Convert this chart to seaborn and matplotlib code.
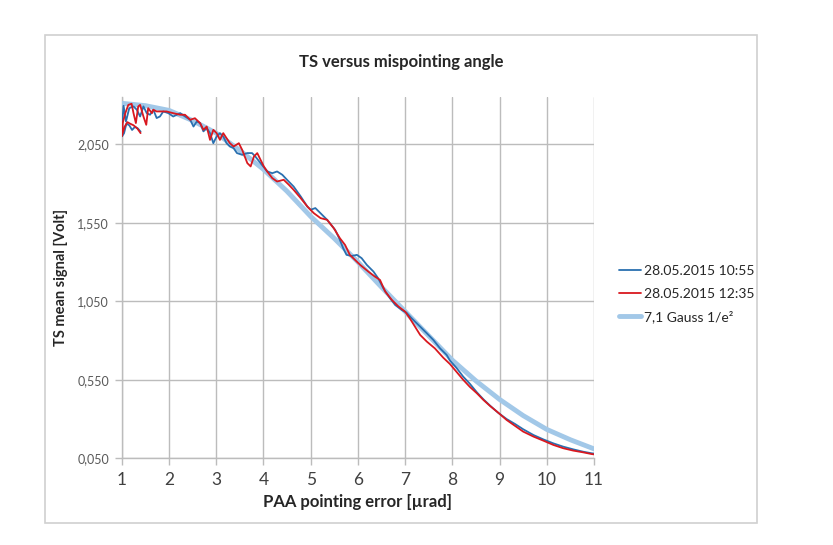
import matplotlib
matplotlib.use("Agg")
import matplotlib.pyplot as plt
import seaborn as sns
import pandas as pd
from matplotlib.ticker import FuncFormatter
from matplotlib.patches import Rectangle

# Measurement 28.05.2015 10:55 (starts with a short sweep back from 1.4 to 1.0)
blue_x = [1.40, 1.34, 1.28, 1.22, 1.16, 1.10, 1.05, 1.01,
          1.02, 1.04, 1.09, 1.16, 1.25, 1.32, 1.39, 1.46, 1.53, 1.60, 1.67, 1.74,
          1.81, 1.88, 1.99, 2.09, 2.24, 2.34, 2.45, 2.52, 2.59, 2.66, 2.73, 2.80,
          2.87, 2.94, 3.01, 3.08, 3.15, 3.22, 3.29, 3.37, 3.44, 3.55, 3.66, 3.76,
          3.83, 3.94, 4.08, 4.19, 4.29, 4.40, 4.50, 4.64, 4.79, 4.93, 5.00, 5.10,
          5.21, 5.35, 5.52, 5.62, 5.69, 5.76, 5.87, 5.98, 6.08, 6.19, 6.33, 6.43,
          6.54, 6.68, 6.79, 6.93, 7.03, 7.14, 7.32, 7.46, 7.60, 7.74, 7.88, 7.95,
          8.09, 8.23, 8.37, 8.52, 8.66, 8.80, 8.97, 9.15, 9.33, 9.50, 9.72, 9.93,
          10.14, 10.35, 10.56, 10.77, 10.95, 11.0]
blue_y = [2.13, 2.15, 2.16, 2.14, 2.17, 2.18, 2.12, 2.10,
          2.22, 2.294, 2.194, 2.279, 2.29, 2.269, 2.226, 2.29, 2.247, 2.237, 2.269, 2.216,
          2.226, 2.258, 2.247, 2.226, 2.247, 2.226, 2.205, 2.162, 2.194, 2.184, 2.131, 2.152,
          2.12, 2.056, 2.099, 2.12, 2.099, 2.056, 2.035, 2.024, 1.993, 1.982, 1.993, 1.993,
          1.971, 1.929, 1.876, 1.865, 1.876, 1.855, 1.823, 1.78, 1.717, 1.653, 1.632, 1.643,
          1.61, 1.568, 1.504, 1.44, 1.387, 1.345, 1.338, 1.345, 1.324, 1.281, 1.239, 1.196,
          1.132, 1.069, 1.026, 0.994, 0.977, 0.941, 0.888, 0.846, 0.803, 0.75, 0.708, 0.672,
          0.625, 0.57, 0.525, 0.47, 0.425, 0.385, 0.34, 0.30, 0.268, 0.235, 0.198, 0.170,
          0.145, 0.124, 0.107, 0.092, 0.082, 0.080]

# Measurement 28.05.2015 12:35
red_x = [1.40, 1.33, 1.25, 1.18, 1.12, 1.06, 1.02, 1.00,
         1.02, 1.08, 1.14, 1.21, 1.25, 1.30, 1.35, 1.39, 1.46, 1.52, 1.56, 1.64,
         1.67, 1.74, 1.81, 1.95, 2.09, 2.24, 2.34, 2.45, 2.55, 2.66, 2.73, 2.80,
         2.87, 2.94, 3.01, 3.08, 3.15, 3.22, 3.29, 3.37, 3.48, 3.55, 3.66, 3.73,
         3.80, 3.87, 3.94, 4.01, 4.08, 4.19, 4.29, 4.43, 4.54, 4.64, 4.79, 4.93,
         5.07, 5.21, 5.35, 5.49, 5.62, 5.73, 5.83, 5.94, 6.05, 6.22, 6.36, 6.47,
         6.58, 6.72, 6.86, 7.00, 7.10, 7.21, 7.32, 7.46, 7.63, 7.81, 7.95, 8.09,
         8.23, 8.37, 8.52, 8.66, 8.80, 8.97, 9.15, 9.33, 9.50, 9.72, 9.93, 10.14,
         10.35, 10.56, 10.77, 10.95, 11.0]
red_y = [2.12, 2.15, 2.17, 2.18, 2.19, 2.16, 2.12, 2.10,
         2.184, 2.25, 2.30, 2.307, 2.247, 2.184, 2.29, 2.30, 2.226, 2.173, 2.279, 2.247,
         2.269, 2.258, 2.258, 2.258, 2.247, 2.237, 2.237, 2.205, 2.215, 2.184, 2.141, 2.162,
         2.077, 2.141, 2.12, 2.077, 2.12, 2.088, 2.056, 2.035, 2.056, 2.014, 1.929, 1.908,
         1.971, 1.993, 1.95, 1.908, 1.876, 1.833, 1.812, 1.823, 1.791, 1.759, 1.706, 1.653,
         1.61, 1.579, 1.568, 1.515, 1.451, 1.408, 1.345, 1.313, 1.281, 1.239, 1.207, 1.185,
         1.111, 1.058, 1.016, 0.984, 0.941, 0.888, 0.835, 0.793, 0.75, 0.69, 0.65, 0.60,
         0.55, 0.505, 0.464, 0.421, 0.383, 0.341, 0.294, 0.256, 0.22, 0.188, 0.162, 0.135,
         0.114, 0.099, 0.088, 0.077, 0.075]

# Gaussian fit, 1/e^2 = 7.1
gauss_x = [1.0, 1.5, 2.0, 2.5, 3.0, 3.5, 4.0, 4.5, 5.0, 5.5, 6.0,
           6.5, 7.0, 7.5, 8.0, 8.5, 9.0, 9.5, 10.0, 10.5, 11.0]
gauss_y = [2.31, 2.295, 2.265, 2.20, 2.12, 2.01, 1.89, 1.75, 1.59, 1.45, 1.30,
           1.14, 0.985, 0.83, 0.675, 0.543, 0.425, 0.322, 0.234, 0.168, 0.11]

labels = ["28.05.2015 10:55", "28.05.2015 12:35", "7,1 Gauss 1/e\u00b2"]
colors = ["#2a70b0", "#d9181f", "#a2c8e8"]
x_ticks = list(range(1, 12))
y_ticks = [0.05, 0.55, 1.05, 1.55, 2.05]

sns.set_theme(style="white")
plt.rcParams["font.family"] = ["Lato", "DejaVu Sans"]

fig = plt.figure(figsize=(8.33, 5.45), dpi=100)
ax = fig.add_axes([121.7 / 833, 86.7 / 545, (594 - 121.7) / 833, (458.3 - 97) / 545])

# chart frame
fig.patches.append(Rectangle((45 / 833, 22 / 545), 712 / 833, 488 / 545,
                             transform=fig.transFigure, fill=False,
                             edgecolor="#d0d0d0", lw=1.2))

df_g = pd.DataFrame({"x": gauss_x, "y": gauss_y})
df_b = pd.DataFrame({"x": blue_x, "y": blue_y})
df_r = pd.DataFrame({"x": red_x, "y": red_y})

sns.lineplot(data=df_g, x="x", y="y", ax=ax, color=colors[2], lw=3.5,
             sort=False, estimator=None, label=labels[2], zorder=3)
sns.lineplot(data=df_b, x="x", y="y", ax=ax, color=colors[0], lw=1.3,
             sort=False, estimator=None, label=labels[0], zorder=4)
sns.lineplot(data=df_r, x="x", y="y", ax=ax, color=colors[1], lw=1.3,
             sort=False, estimator=None, label=labels[1], zorder=5)

ax.set_xlim(1, 11)
ax.set_ylim(0.05, 2.35)
ax.set_xticks(x_ticks)
ax.set_yticks(y_ticks)
ax.yaxis.set_major_formatter(FuncFormatter(lambda v, p: f"{v:.3f}".replace(".", ",")))
ax.grid(True, color="#bcbcbc", lw=1)
ax.set_axisbelow(True)
for s in ["top", "right"]:
    ax.spines[s].set_visible(False)
for s in ["left", "bottom"]:
    ax.spines[s].set_color("#bcbcbc")
    ax.spines[s].set_linewidth(1)
ax.tick_params(axis="x", which="major", bottom=True, length=5, width=1,
               color="#bcbcbc", labelsize=12.5, labelcolor="#404040", pad=5)
ax.tick_params(axis="y", which="major", left=True, length=5, width=1,
               color="#bcbcbc", labelsize=9, labelcolor="#595959", pad=4)

ax.set_xlabel("PAA pointing error [\u00b5rad]", fontsize=12, fontweight="bold",
              color="#262626", labelpad=4)
ax.set_ylabel("TS mean signal [Volt]", fontsize=10.5, fontweight="bold",
              color="#262626", labelpad=7)
fig.text(401 / 833, 1 - 62 / 545, "TS versus mispointing angle", ha="center",
         va="center", fontsize=12, fontweight="bold", color="#262626")

h, l = ax.get_legend_handles_labels()
order = [l.index(t) for t in labels]
ax.get_legend().remove()
fig.legend([h[i] for i in order], [l[i] for i in order], loc="center left",
           bbox_to_anchor=(606 / 833, 1 - 294 / 545), frameon=False,
           fontsize=10, handlelength=1.6, handletextpad=0.2, labelspacing=0.75,
           labelcolor="#262626")

fig.savefig("out.png", dpi=100)
